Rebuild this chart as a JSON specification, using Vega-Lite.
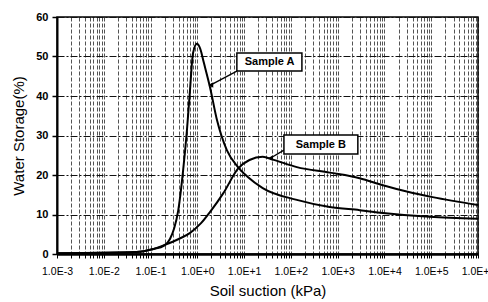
{
  "$schema": "https://vega.github.io/schema/vega-lite/v6.json",
  "width": 421,
  "height": 237,
  "autosize": {"type": "none"},
  "padding": {"left": 57, "top": 17, "right": 10, "bottom": 48},
  "background": "white",
  "config": {
    "view": {"stroke": "#000", "strokeWidth": 1.5},
    "font": "Liberation Sans"
  },
  "datasets": {
    "curves": [
      {"sample": "A", "suction": 0.001, "storage": 0.2},
      {"sample": "A", "suction": 0.01, "storage": 0.3},
      {"sample": "A", "suction": 0.05, "storage": 0.5},
      {"sample": "A", "suction": 0.11, "storage": 1.2},
      {"sample": "A", "suction": 0.2, "storage": 2.2},
      {"sample": "A", "suction": 0.26, "storage": 3.8},
      {"sample": "A", "suction": 0.32, "storage": 6.5},
      {"sample": "A", "suction": 0.39, "storage": 11.0},
      {"sample": "A", "suction": 0.49, "storage": 20.5},
      {"sample": "A", "suction": 0.6, "storage": 31.4},
      {"sample": "A", "suction": 0.69, "storage": 40.8},
      {"sample": "A", "suction": 0.81, "storage": 50.9},
      {"sample": "A", "suction": 0.98, "storage": 53.2},
      {"sample": "A", "suction": 1.15, "storage": 52.0},
      {"sample": "A", "suction": 1.38, "storage": 48.4},
      {"sample": "A", "suction": 1.86, "storage": 42.3},
      {"sample": "A", "suction": 2.63, "storage": 33.9},
      {"sample": "A", "suction": 4.27, "storage": 26.3},
      {"sample": "A", "suction": 7.4, "storage": 22.0},
      {"sample": "A", "suction": 12, "storage": 19.5},
      {"sample": "A", "suction": 25, "storage": 16.7},
      {"sample": "A", "suction": 134, "storage": 13.7},
      {"sample": "A", "suction": 676, "storage": 11.9},
      {"sample": "A", "suction": 2950, "storage": 11.1},
      {"sample": "A", "suction": 9300, "storage": 10.4},
      {"sample": "A", "suction": 93000, "storage": 9.4},
      {"sample": "A", "suction": 1000000, "storage": 8.9},
      {"sample": "B", "suction": 0.001, "storage": 0.2},
      {"sample": "B", "suction": 0.05, "storage": 0.5},
      {"sample": "B", "suction": 0.11, "storage": 1.2},
      {"sample": "B", "suction": 0.2, "storage": 2.3},
      {"sample": "B", "suction": 0.4, "storage": 3.8},
      {"sample": "B", "suction": 0.69, "storage": 5.3},
      {"sample": "B", "suction": 1.2, "storage": 7.8},
      {"sample": "B", "suction": 1.86, "storage": 10.6},
      {"sample": "B", "suction": 3.6, "storage": 15.4},
      {"sample": "B", "suction": 7.4, "storage": 21.6},
      {"sample": "B", "suction": 13, "storage": 23.8},
      {"sample": "B", "suction": 25, "storage": 24.6},
      {"sample": "B", "suction": 41, "storage": 23.9},
      {"sample": "B", "suction": 134, "storage": 22.0},
      {"sample": "B", "suction": 676, "storage": 20.6},
      {"sample": "B", "suction": 2950, "storage": 19.2},
      {"sample": "B", "suction": 9300, "storage": 17.4},
      {"sample": "B", "suction": 30000, "storage": 15.8},
      {"sample": "B", "suction": 107000, "storage": 14.4},
      {"sample": "B", "suction": 1000000, "storage": 12.4}
    ],
    "boxes": [
      {"label": "Sample A", "suction": 7.0, "suction2": 172, "storage": 46.3, "storage2": 50.9},
      {"label": "Sample B", "suction": 71, "suction2": 2700, "storage": 25.3, "storage2": 30.1}
    ],
    "texts": [
      {"label": "Sample A", "suction": 35, "storage": 48.6},
      {"label": "Sample B", "suction": 436, "storage": 27.7}
    ],
    "arrows": [
      {"label": "Sample A", "suction": 7.0, "storage": 46.3, "suction2": 1.95, "storage2": 42.8},
      {"label": "Sample B", "suction": 71, "storage": 26.3, "suction2": 37, "storage2": 24.3}
    ],
    "heads": [
      {"label": "Sample A", "suction": 1.95, "storage": 42.8},
      {"label": "Sample B", "suction": 37, "storage": 24.3}
    ]
  },
  "encoding": {
    "x": {
      "field": "suction", "type": "quantitative",
      "scale": {"type": "log", "domain": [0.001, 1000000], "nice": false},
      "title": "Soil suction (kPa)",
      "axis": {
        "values": [0.001,0.002,0.003,0.004,0.005,0.006,0.007,0.008,0.009,
                   0.01,0.02,0.03,0.04,0.05,0.06,0.07,0.08,0.09,
                   0.1,0.2,0.3,0.4,0.5,0.6,0.7,0.8,0.9,
                   1,2,3,4,5,6,7,8,9,
                   10,20,30,40,50,60,70,80,90,
                   100,200,300,400,500,600,700,800,900,
                   1000,2000,3000,4000,5000,6000,7000,8000,9000,
                   10000,20000,30000,40000,50000,60000,70000,80000,90000,
                   100000,200000,300000,400000,500000,600000,700000,800000,900000,
                   1000000],
        "labelExpr": "abs(log(datum.value)/LN10 - round(log(datum.value)/LN10)) < 0.001 ? '1.0E' + (round(log(datum.value)/LN10) >= 0 ? '+' : '') + round(log(datum.value)/LN10) : ''",
        "labelOverlap": false,
        "labelFlush": false,
        "labelFontSize": 10.5,
        "labelColor": "#000",
        "labelPadding": 8,
        "tickColor": "#000",
        "tickSize": 4,
        "domainColor": "#000",
        "domainWidth": 2.5,
        "grid": true,
        "gridColor": "#000",
        "gridDash": [4, 2],
        "gridWidth": 0.8,
        "gridOpacity": 0.85,
        "titleFontSize": 15,
        "titleFontWeight": "normal",
        "titleColor": "#000",
        "titlePadding": 7
      }
    },
    "y": {
      "field": "storage", "type": "quantitative",
      "scale": {"domain": [0, 60], "nice": false},
      "title": "Water Storage(%)",
      "axis": {
        "values": [0, 10, 20, 30, 40, 50, 60],
        "labelOverlap": false,
        "labelFlush": false,
        "labelFontSize": 11,
        "labelFontWeight": "bold",
        "labelColor": "#000",
        "labelPadding": 4,
        "tickColor": "#000",
        "tickSize": 5,
        "tickWidth": 1.5,
        "domainColor": "#000",
        "domainWidth": 2,
        "grid": true,
        "gridColor": "#111",
        "gridDash": [7, 2, 2, 2],
        "gridWidth": 1,
        "titleFontSize": 15,
        "titleFontWeight": "normal",
        "titleColor": "#000",
        "titlePadding": 9
      }
    }
  },
  "layer": [
    {
      "data": {"name": "curves"},
      "mark": {"type": "line", "color": "#000", "strokeWidth": 2, "interpolate": "monotone"},
      "encoding": {
        "detail": {"field": "sample", "type": "nominal"}
      }
    },
    {
      "data": {"name": "arrows"},
      "mark": {"type": "rule", "color": "#000", "strokeWidth": 1.3},
      "encoding": {
        "x2": {"field": "suction2"},
        "y2": {"field": "storage2"}
      }
    },
    {
      "data": {"name": "heads"},
      "mark": {"type": "point", "shape": "triangle-left", "filled": true, "color": "#000", "size": 30, "opacity": 1},
      "encoding": {}
    },
    {
      "data": {"name": "boxes"},
      "mark": {"type": "rect", "fill": "white", "stroke": "#000", "strokeWidth": 1.5},
      "encoding": {
        "x2": {"field": "suction2"},
        "y2": {"field": "storage2"}
      }
    },
    {
      "data": {"name": "texts"},
      "mark": {"type": "text", "fontSize": 11, "fontWeight": "bold", "color": "#000", "align": "center", "baseline": "middle"},
      "encoding": {
        "text": {"field": "label"}
      }
    }
  ]
}
